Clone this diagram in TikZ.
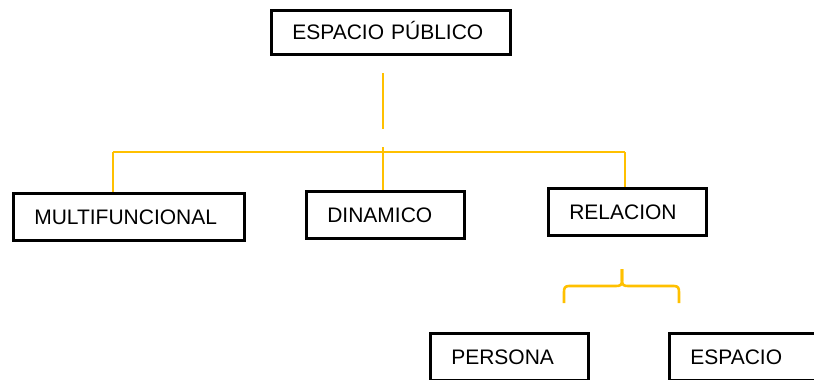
\documentclass[tikz,border=0pt]{standalone}
\usepackage{fontspec}
\setmainfont{Liberation Sans}
\definecolor{ylw}{HTML}{FFC000}
\begin{document}
\begin{tikzpicture}[x=1pt,y=-1pt,
  box/.style={draw=black, line width=2.6pt, anchor=north west, align=left,
    inner xsep=21pt, inner ysep=0pt, text height=15pt, text depth=0pt,
    font=\fontsize{21pt}{25pt}\selectfont},
  conn/.style={draw=ylw, line width=2.6pt}]
\useasboundingbox (0,0) rectangle (814,380);
\node[box, text width=197pt, minimum height=44pt] (pub) at (270,9) {ESPACIO PÚBLICO};
\node[box, text width=189pt, minimum height=47pt] (multi) at (12,192) {MULTIFUNCIONAL};
\node[box, text width=116pt, minimum height=47pt] (din) at (305,190) {DINAMICO};
\node[box, text width=116pt, minimum height=47pt] (rel) at (547,187) {RELACION};
\node[box, text width=116pt, minimum height=47pt] (per) at (429,332) {PERSONA};
\node[box, text width=116pt, minimum height=47pt] (esp) at (668,332) {ESPACIO};
% connectors
\coordinate (t1) at (383,73);
\coordinate (t2) at (383,129);
\coordinate (hl) at (113,152);
\coordinate (hr) at (625,152);
\coordinate (dtop) at (383,147);
\draw[conn] (t1) -- (t2);
\draw[conn] (hl) -- (hr);
\draw[conn] (hl) -- (hl |- multi.north);
\draw[conn] (dtop) -- (dtop |- din.north);
\draw[conn] (hr) -- (hr |- rel.north);
% brace
\coordinate (bl) at (564,303);
\coordinate (br) at (679,303);
\coordinate (bm) at (622,269);
\draw[conn] (bl) -- (564,292) .. controls (564,288) and (565,286) .. (569,286)
  -- (616,286) .. controls (620,286) and (622,285) .. (622,281) -- (bm);
\draw[conn] (bm) -- (622,281) .. controls (622,285) and (624,286) .. (628,286)
  -- (674,286) .. controls (678,286) and (679,288) .. (679,292) -- (br);
\end{tikzpicture}
\end{document}
